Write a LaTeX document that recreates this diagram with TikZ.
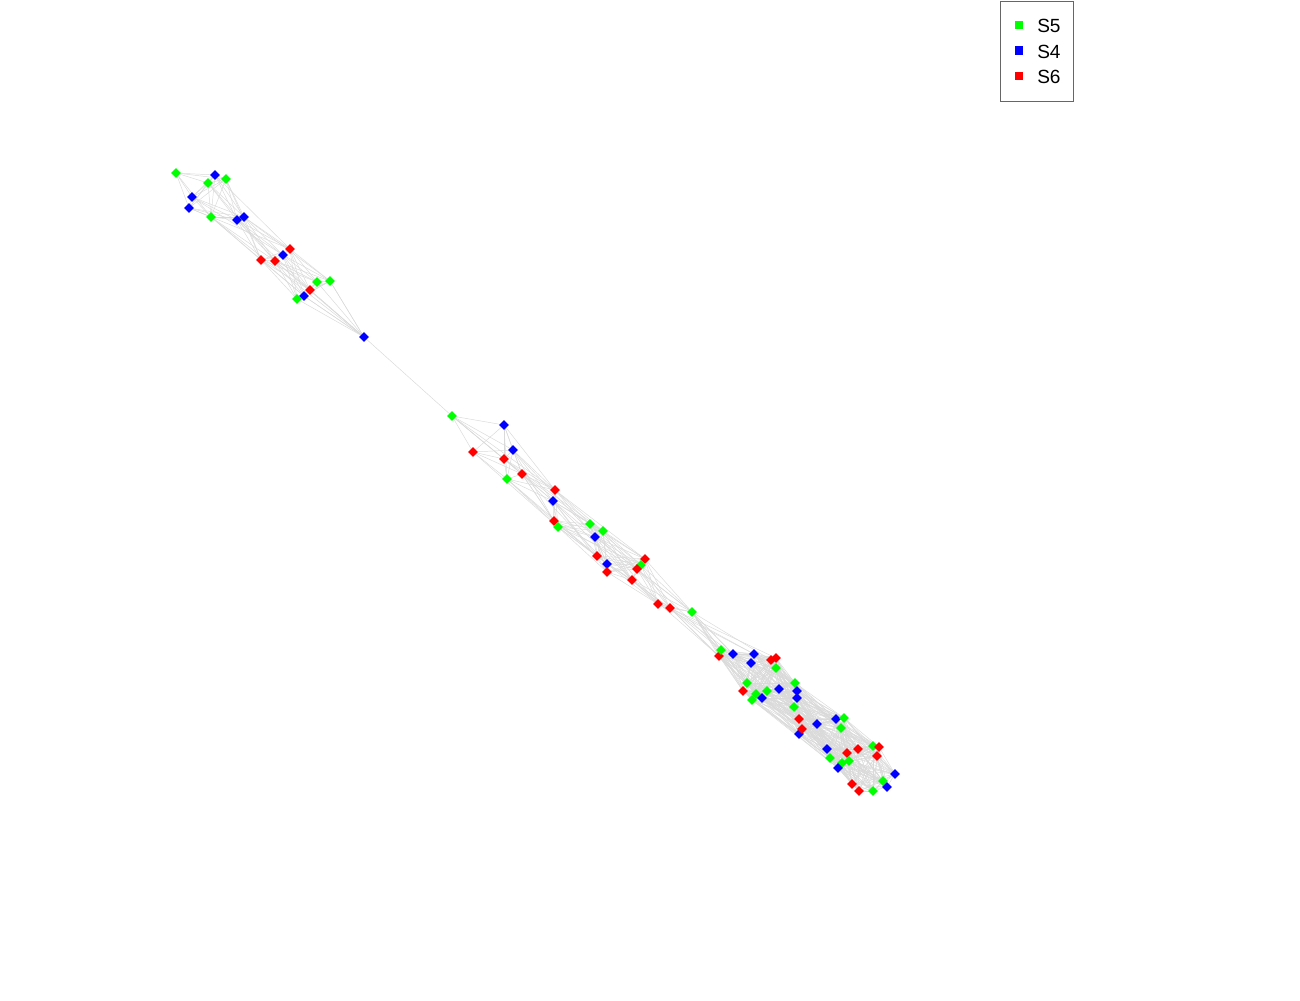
\documentclass[tikz,border=0pt]{standalone}
\usepackage{fontspec}
\setmainfont{Liberation Sans}
\usetikzlibrary{shapes.geometric}
\pgfdeclarelayer{background}
\pgfsetlayers{background,main}
\tikzset{
  mk/.style={shape=diamond, draw=none, inner sep=0pt, minimum width=7.6pt, minimum height=7.6pt},
  edge/.style={draw=black!15, line width=0.35pt},
  legsq/.style={draw=none, inner sep=0pt, minimum size=6.2pt},
  legtxt/.style={anchor=west, inner sep=0pt, font=\fontsize{14.3}{15}\selectfont},
}
\def\nodelist{176/173/green,215/175/blue,208/183/green,226/179/green,192/197/blue,189/208/blue,211/217/green,237/220/blue,244/217/blue,290/249/red,283/255/blue,261/260/red,275/261/red,317/282/green,330/281/green,310/290/red,304/296/blue,297/299/green,364/337/blue,452/416/green,504/425/blue,473/452/red,513/450/blue,504/459/red,522/474/red,507/479/green,555/490/red,553/501/blue,554/521/red,558/527/green,590/524/green,603/531/green,595/537/blue,597/556/red,607/564/blue,607/572/red,645/559/red,641/565/green,637/569/red,632/580/red,658/604/red,670/608/red,692/612/green,719/656/red,721/650/green,733/654/blue,754/654/blue,751/663/blue,771/660/red,776/658/red,776/668/green,747/683/green,743/691/red,756/694/green,767/691/green,762/698/blue,752/700/green,779/689/blue,795/683/green,797/691/blue,797/698/blue,794/707/green,799/734/blue,799/719/red,817/724/blue,802/729/red,836/719/blue,844/718/green,841/728/green,827/749/blue,830/758/green,847/753/red,858/749/red,873/746/green,879/747/red,877/756/red,842/763/green,849/761/green,838/768/blue,895/774/blue,883/781/green,887/787/blue,852/784/red,859/791/red,873/791/green}
\begin{document}
\begin{tikzpicture}[x=0.75pt,y=-0.75pt]
\useasboundingbox (0,0) rectangle (1300,1000);
% nodes
\foreach \xa/\ya/\ca [count=\i] in \nodelist {
  \node[mk, fill=\ca] (n\i) at (\xa,\ya) {};
}
% edges behind the nodes
\begin{pgfonlayer}{background}
\foreach \xa/\ya/\ca [count=\i] in \nodelist {
  \foreach \xb/\yb/\cb [count=\j] in \nodelist {
    \ifnum\j>\i
      \pgfmathtruncatemacro\ok{(veclen(\xa-\xb,\ya-\yb)<72) || ((veclen(\xa-\xb,\ya-\yb)<125) && (mod(\i*7+\j*3,4)==0))}
      \ifnum\ok=1 \draw[edge] (n\i.center) -- (n\j.center); \fi
    \fi
  }
}
\draw[edge] (n19.center) -- (n20.center);
\foreach \a/\b in {14/19,15/19,16/19,17/19,18/19,7/19,20/27,20/25,20/24,43/46,43/52,42/47}{
  \draw[edge] (n\a.center) -- (n\b.center);
}
\end{pgfonlayer}
% legend
\node[draw=black!60, line width=0.6pt, inner sep=0pt, minimum width=73*0.75pt, minimum height=100*0.75pt, anchor=north west] (leg) at (1000,0.5) {};
\node[legsq, fill=green] (l1) at (1019,25) {};
\node[legsq, fill=blue] (l2) at (1019,50.5) {};
\node[legsq, fill=red] (l3) at (1019,76) {};
\node[legtxt] (t1) at (1037,26) {S5};
\node[legtxt] (t2) at (1037,51.5) {S4};
\node[legtxt] (t3) at (1037,77) {S6};
\end{tikzpicture}
\end{document}
